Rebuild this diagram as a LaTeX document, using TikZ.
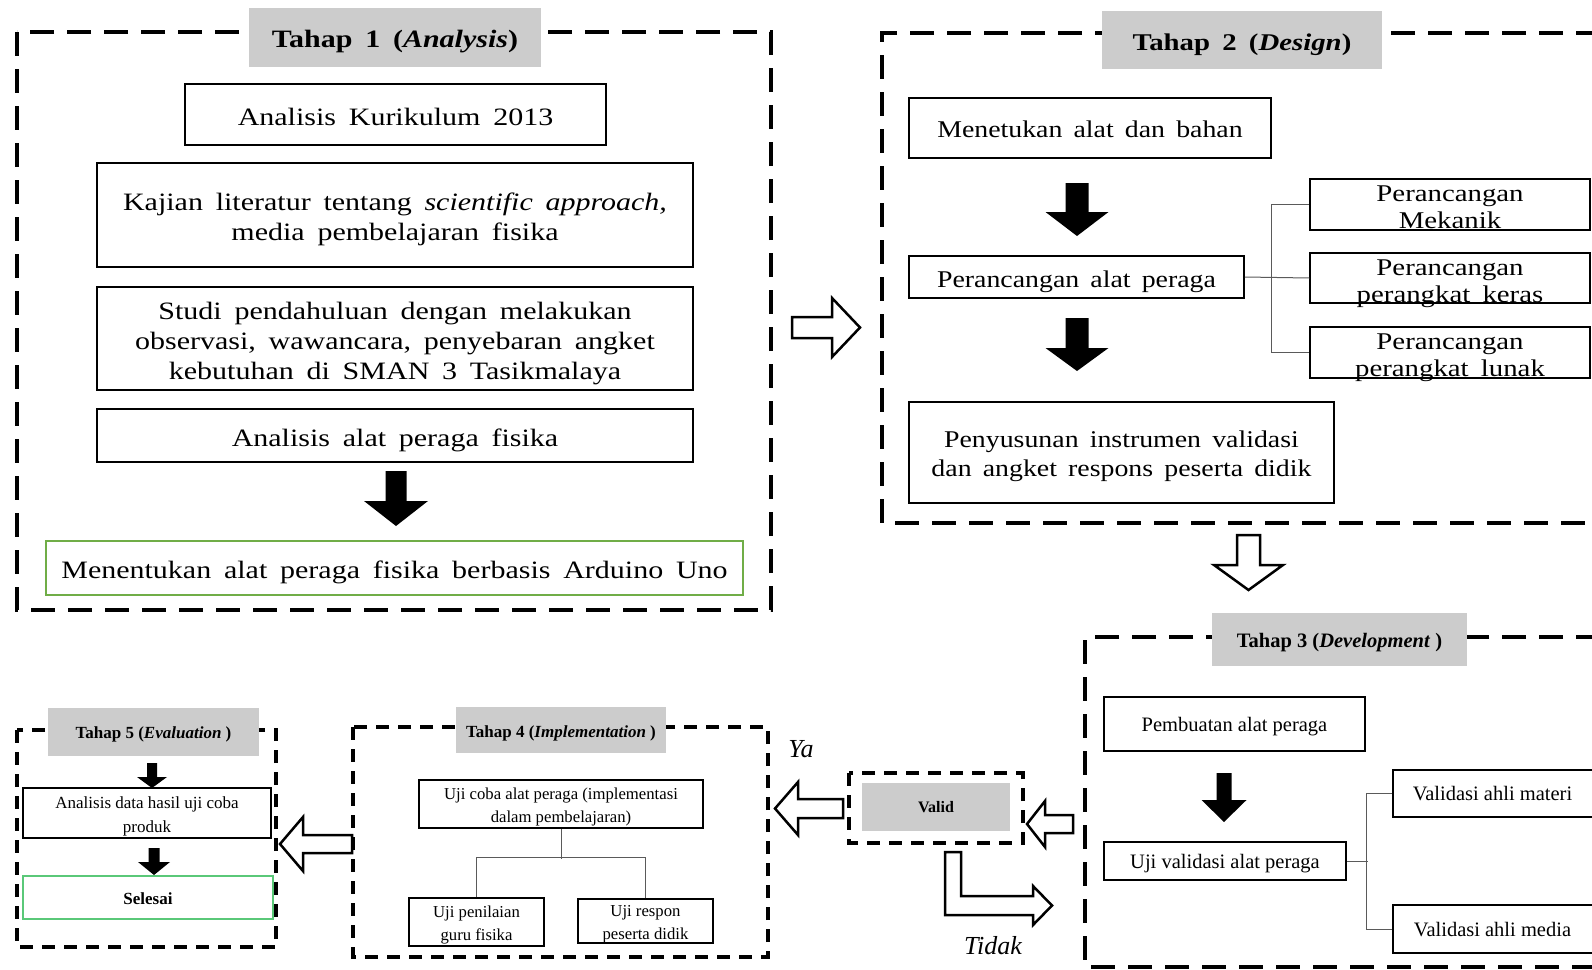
\documentclass[tikz,border=0pt]{standalone}
\usepackage{fontspec}
\setmainfont{Liberation Serif}
\newfontfamily\widefont[FakeStretch=1.2,WordSpace=1.7]{Liberation Serif}
\newfontfamily\widefontB[FakeStretch=1.16,WordSpace=1.6]{Liberation Serif}
\definecolor{tgray}{RGB}{204,204,204}
\definecolor{grnA}{RGB}{112,173,71}
\definecolor{grnB}{RGB}{90,200,120}
\definecolor{connc}{RGB}{90,90,90}
\newcommand\blkarrow[6]{\fill[black] (#1-#5,#2) -- (#1+#5,#2) -- (#1+#5,#3) -- (#1+#6,#3) -- (#1,#4) -- (#1-#6,#3) -- (#1-#5,#3) -- cycle;}
\begin{document}
\begin{tikzpicture}[x=1pt,y=-1pt,
 box/.style={draw, line width=1.5pt, fill=white, inner sep=0pt, align=center},
 ttl/.style={fill=tgray, inner sep=0pt, align=center},
 tx/.style 2 args={text height=#1, text depth=#2},
 bigframe/.style={line width=4pt, dash pattern=on 24pt off 13pt},
 smallframe/.style={line width=3.6pt, dash pattern=on 13pt off 9pt},
 hollow/.style={draw, line width=2.5pt, fill=white, line join=miter},
 conn/.style={draw=connc, line width=1pt},
 fA/.style={font=\widefont\fontsize{25}{30}\selectfont},
 fB/.style={font=\widefontB\fontsize{24}{29.5}\selectfont},
 fC/.style={font=\widefont\fontsize{24}{27}\selectfont},
 fD/.style={font=\fontsize{20.5}{24}\selectfont},
 fE/.style={font=\fontsize{16.7}{22.5}\selectfont},
]
\useasboundingbox (0,0) rectangle (1592,969);
\clip (0,0) rectangle (1592,969);
\fill[white] (0,0) rectangle (1592,969);

% frames
\draw[bigframe] (17,32) rectangle (771,610);
\draw[bigframe] (1600,33) -- (882,33) -- (882,523) -- (1600,523);
\draw[bigframe] (1600,637) -- (1085,637) -- (1085,967) -- (1600,967);
\draw[smallframe] (353,727) rectangle (768,957);
\draw[smallframe] (17,730) rectangle (276,947);
\draw[smallframe] (849,773) rectangle (1023,843);

% titles
\node[ttl, tx={20.4pt}{0pt}, minimum width=292pt, minimum height=59pt, font=\widefont\bfseries\fontsize{25}{30}\selectfont] (t1) at (395,37.5) {Tahap 1 (\textit{Analysis})};
\node[ttl, tx={21.7pt}{0pt}, minimum width=280pt, minimum height=58pt, font=\widefont\bfseries\fontsize{24}{30}\selectfont] (t2) at (1242,40) {Tahap 2 (\textit{Design})};
\node[ttl, tx={16.4pt}{0pt}, minimum width=255pt, minimum height=53pt, font=\bfseries\fontsize{20.5}{24}\selectfont] (t3) at (1339.5,639.5) {Tahap 3 (\textit{Development} )};
\node[ttl, tx={14.1pt}{0pt}, minimum width=210pt, minimum height=46pt, font=\bfseries\fontsize{17}{20}\selectfont] (t4) at (561,730) {Tahap 4 (\textit{Implementation} )};
\node[ttl, tx={13.1pt}{0pt}, minimum width=211pt, minimum height=48pt, font=\bfseries\fontsize{17}{20}\selectfont] (t5) at (153.5,732) {Tahap 5 (\textit{Evaluation} )};
\node[ttl, tx={10.5pt}{0pt}, minimum width=148pt, minimum height=48pt, font=\bfseries\fontsize{16}{20}\selectfont] (valid) at (936,807) {Valid};

% stage 1
\node[box, tx={21.4pt}{0pt}, minimum width=421pt, minimum height=61pt, fA] (a1) at (395.5,114.5) {Analisis Kurikulum 2013};
\node[box, tx={51.4pt}{0pt}, minimum width=596pt, minimum height=104pt, fA] (a2) at (395,215) {Kajian literatur tentang \textit{scientific approach,}\\ media pembelajaran fisika};
\node[box, tx={81.4pt}{0pt}, minimum width=596pt, minimum height=103pt, fA] (a3) at (395,338.5) {Studi pendahuluan dengan melakukan\\ observasi, wawancara, penyebaran angket\\ kebutuhan di SMAN 3 Tasikmalaya};
\node[box, tx={21.4pt}{0pt}, minimum width=596pt, minimum height=53pt, fA] (a4) at (395,435.5) {Analisis alat peraga fisika};
\node[box, tx={20.4pt}{0pt}, draw=grnA, minimum width=697pt, minimum height=54pt, fA] (a5) at (394.5,568) {Menentukan alat peraga fisika berbasis Arduino Uno};
\blkarrow{396}{471}{501}{526}{10.5}{32}

% stage 2
\node[box, tx={19.7pt}{0pt}, minimum width=362pt, minimum height=60pt, fB] (b1) at (1090,128) {Menetukan alat dan bahan};
\node[box, tx={21.7pt}{0pt}, minimum width=335pt, minimum height=42pt, fB] (b2) at (1076.5,277) {Perancangan alat peraga};
\node[box, tx={48.2pt}{0pt}, minimum width=425pt, minimum height=101pt, fB] (b3) at (1121.5,452.5) {Penyusunan instrumen validasi\\ dan angket respons peserta didik};
\node[box, tx={48pt}{0pt}, minimum width=280pt, minimum height=51pt, fC] (c1) at (1450,204.5) {Perancangan\\ Mekanik};
\node[box, tx={48pt}{0pt}, minimum width=280pt, minimum height=50pt, fC] (c2) at (1450,278) {Perancangan\\ perangkat keras};
\node[box, tx={48pt}{0pt}, minimum width=280pt, minimum height=51pt, fC] (c3) at (1450,352.5) {Perancangan\\ perangkat lunak};
\draw[conn] (b2.east) -- (c2.west);
\draw[conn] (c1.west) -- ++(-38,0) |- (c3.west);
\blkarrow{1077}{183}{212}{236}{11.5}{31.5}
\blkarrow{1077}{318}{348}{371}{11.5}{31.5}

% stage 3
\node[box, tx={15.4pt}{0pt}, minimum width=261pt, minimum height=54pt, fD] (d1) at (1234.5,724) {Pembuatan alat peraga};
\node[box, tx={15.4pt}{0pt}, minimum width=242pt, minimum height=38pt, fD] (d2) at (1225,861) {Uji validasi alat peraga};
\node[box, tx={14.4pt}{0pt}, minimum width=203pt, minimum height=47pt, fD] (e1) at (1494.5,793.5) {Validasi ahli materi\hspace*{4pt}};
\node[box, tx={14.4pt}{0pt}, minimum width=203pt, minimum height=48pt, fD] (e2) at (1494.5,929) {Validasi ahli media\hspace*{4pt}};
\draw[conn] (d2.east) -- ++(21,0);
\draw[conn] (e1.west) -- ++(-26,0) |- (e2.west);
\blkarrow{1224}{773}{800}{822}{7.5}{22.5}

% stage 4
\node[box, tx={36.4pt}{0pt}, minimum width=284pt, minimum height=48pt, fE] (f1) at (561,804) {Uji coba alat peraga (implementasi\\ dalam pembelajaran)};
\node[box, tx={36.4pt}{0pt}, minimum width=135pt, minimum height=48pt, fE] (f2) at (476.5,922) {Uji penilaian\\ guru fisika};
\node[box, tx={36.4pt}{0pt}, minimum width=135pt, minimum height=44pt, fE] (f3) at (645.5,921) {Uji respon\\ peserta didik};
\draw[conn] (f1.south) -- ++(0,30);
\draw[conn] (f2.north) -- ++(0,-40) -| (f3.north);

% stage 5
\node[box, tx={38.1pt}{0pt}, minimum width=248pt, minimum height=50pt, font=\fontsize{17}{24}\selectfont] (g1) at (147,813) {Analisis data hasil uji coba\\ produk};
\node[box, tx={13.1pt}{0pt}, draw=grnB, minimum width=250pt, minimum height=43pt, font=\bfseries\fontsize{17}{20}\selectfont] (g2) at (148,897.5) {Selesai};
\blkarrow{152}{763}{777}{788}{5}{15}
\blkarrow{154}{848}{862}{875}{5.5}{16}

% hollow arrows
\draw[hollow] (792,317) -- (832,317) -- (832,298) -- (860,327.5) -- (832,357) -- (832,338) -- (792,338) -- cycle;
\draw[hollow] (1237,535) -- (1260,535) -- (1260,565) -- (1283,565) -- (1248.5,590) -- (1214,565) -- (1237,565) -- cycle;
\draw[hollow] (1073,815) -- (1045,815) -- (1045,801) -- (1027,824) -- (1045,847) -- (1045,833) -- (1073,833) -- cycle;
\draw[hollow] (843,799) -- (798,799) -- (798,782) -- (775,808.5) -- (798,835) -- (798,818) -- (843,818) -- cycle;
\draw[hollow] (352,835) -- (303,835) -- (303,817) -- (280,844) -- (303,871) -- (303,853) -- (352,853) -- cycle;
\draw[hollow] (945,852) -- (961,852) -- (961,896) -- (1033,896) -- (1033,886) -- (1052,905.5) -- (1033,925) -- (1033,915) -- (945,915) -- cycle;

% labels
\node[font=\itshape\fontsize{26}{30}\selectfont, inner sep=0pt] (ya) at (801,749) {Ya};
\node[font=\itshape\fontsize{26}{30}\selectfont, inner sep=0pt] (tidak) at (993,946) {Tidak};
\end{tikzpicture}
\end{document}
